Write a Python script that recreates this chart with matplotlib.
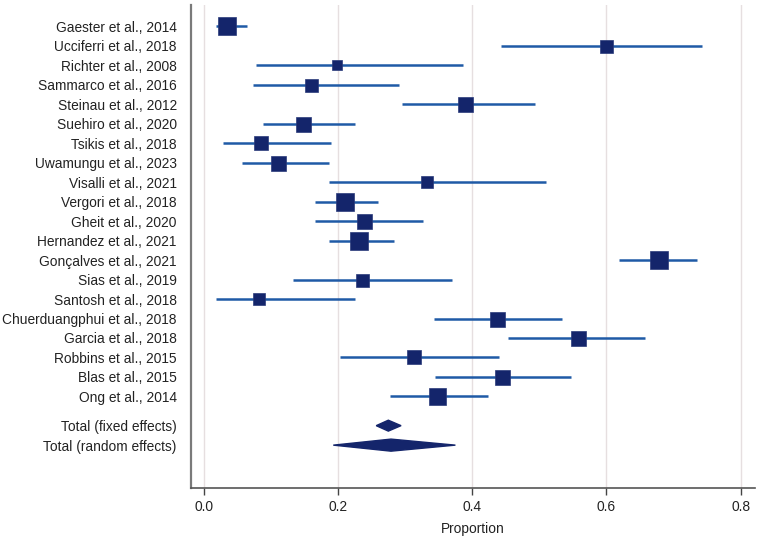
import matplotlib.pyplot as plt
from matplotlib.patches import Polygon

plt.rcParams['font.family'] = ['Liberation Sans', 'DejaVu Sans']

studies = ["Gaester et al., 2014", "Ucciferri et al., 2018", "Richter et al., 2008",
           "Sammarco et al., 2016", "Steinau et al., 2012", "Suehiro et al., 2020",
           "Tsikis et al., 2018", "Uwamungu et al., 2023", "Visalli et al., 2021",
           "Vergori et al., 2018", "Gheit et al., 2020", "Hernandez et al., 2021",
           "Gonçalves et al., 2021", "Sias et al., 2019", "Santosh et al., 2018",
           "Chuerduangphui et al., 2018", "Garcia et al., 2018", "Robbins et al., 2015",
           "Blas et al., 2015", "Ong et al., 2014"]
prop = [0.035, 0.600, 0.199, 0.160, 0.390, 0.148, 0.086, 0.110, 0.333, 0.210,
        0.239, 0.231, 0.679, 0.236, 0.083, 0.437, 0.557, 0.313, 0.444, 0.347]
ci_low = [0.018, 0.443, 0.078, 0.073, 0.295, 0.089, 0.029, 0.057, 0.186, 0.166,
          0.166, 0.186, 0.619, 0.133, 0.018, 0.343, 0.453, 0.203, 0.345, 0.277]
ci_high = [0.064, 0.743, 0.386, 0.291, 0.493, 0.226, 0.190, 0.187, 0.510, 0.259,
           0.327, 0.283, 0.735, 0.370, 0.225, 0.534, 0.657, 0.440, 0.548, 0.424]
# relative study weight (square side, pixels)
weight = [18, 13, 10, 13, 15, 15, 14, 15, 12, 18, 15, 18, 18, 13, 12, 15, 15, 14, 15, 17]

total_labels = ["Total (fixed effects)", "Total (random effects)"]
total_prop = [0.275, 0.279]
total_low = [0.257, 0.193]
total_high = [0.294, 0.375]

square_col = "#14256B"
line_col = "#1F5AA6"

fig = plt.figure(figsize=(7.6, 5.4), dpi=100)
ax = fig.add_axes([0.251, 0.0963, 0.742, 0.894])

rows = list(range(len(studies)))
for y, p, lo, hi, w in zip(rows, prop, ci_low, ci_high, weight):
    ax.plot([lo, hi], [y, y], color=line_col, lw=1.8, solid_capstyle='butt', zorder=2)
    ax.plot(p, y, marker='s', ms=w * 0.72, color=square_col, mec="#2a3a7a", mew=0.5, zorder=3)

total_rows = [20.5, 21.5]
half_h = [0.28, 0.31]
for y, p, lo, hi, h in zip(total_rows, total_prop, total_low, total_high, half_h):
    ax.add_patch(Polygon([[lo, y], [p, y - h], [hi, y], [p, y + h]],
                         closed=True, color=square_col, zorder=3))

ax.set_yticks(rows + total_rows)
ax.set_yticklabels(studies + total_labels, fontsize=9.9, color="#222222")
ax.tick_params(axis='y', length=0, pad=10)
ax.set_xticks([0.0, 0.2, 0.4, 0.6, 0.8])
ax.set_xticklabels(["0.0", "0.2", "0.4", "0.6", "0.8"])
ax.tick_params(axis='x', labelsize=9.9, colors="#222222", length=5, width=1, color="#444444")
ax.set_xlim(-0.0194, 0.821)
ax.set_ylim(23.7, -1.08)
ax.set_xlabel("Proportion", fontsize=9.9, color="#222222", labelpad=6)

ax.grid(axis='x', color="#e6dfe0", lw=1, zorder=0)
ax.set_axisbelow(True)
for s in ['top', 'right']:
    ax.spines[s].set_visible(False)
ax.spines['left'].set_color("#7a7a7a")
ax.spines['left'].set_linewidth(1.6)
ax.spines['bottom'].set_color("#555555")
ax.spines['bottom'].set_linewidth(1.2)

fig.savefig("out.png", dpi=100)
